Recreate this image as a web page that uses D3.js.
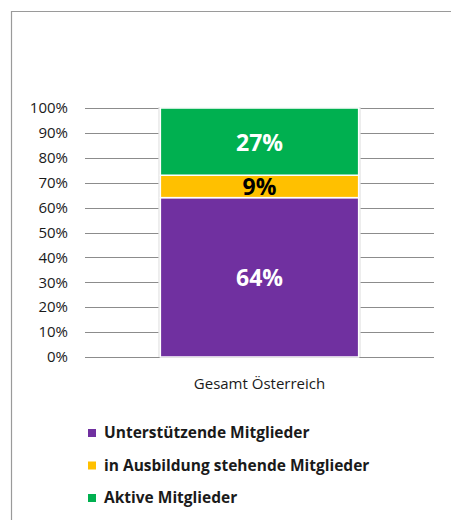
<!DOCTYPE html>
<meta charset="utf-8">
<style>
    body { margin: 0; background: #fff; }
    svg { display: block; }
</style>
<svg width="451" height="520" font-family="'Open Sans', sans-serif"></svg>
<script src="https://cdn.jsdelivr.net/npm/d3@7"></script>
<script>
    // data
    var categories = ["Gesamt Österreich"];
    var seriesNames = ["Unterstützende Mitglieder", "in Ausbildung stehende Mitglieder", "Aktive Mitglieder"];
    var seriesValues = [[64], [9], [27]];
    var seriesColors = ["#7030a0", "#ffc000", "#00b050"];
    var labelColors = ["#fff", "#000", "#fff"];
    var yTicks = [0, 10, 20, 30, 40, 50, 60, 70, 80, 90, 100];

    var svg = d3.select("svg");

    // frame
    svg.append("path")
        .attr("d", "M11.5,520V11.5H451")
        .attr("fill", "none")
        .attr("stroke", "#9a9a9a")
        .attr("stroke-width", 1.2);

    var x = d3.scaleBand()
        .domain(categories)
        .range([85, 434])
        .paddingInner(0)
        .paddingOuter(0.38);

    var y = d3.scaleLinear()
        .domain([0, 100])
        .range([357, 108]);

    // grid
    svg.append("g")
        .selectAll("line")
        .data(yTicks)
        .enter().append("line")
        .attr("x1", 85)
        .attr("x2", 434)
        .attr("y1", function (d) { return Math.round(y(d)) + 0.5; })
        .attr("y2", function (d) { return Math.round(y(d)) + 0.5; })
        .attr("stroke", "#8c8c8c")
        .attr("stroke-width", 1);

    // tick labels
    svg.append("g")
        .attr("text-anchor", "end")
        .attr("font-size", 15)
        .attr("fill", "#1a1a1a")
        .selectAll("text")
        .data(yTicks)
        .enter().append("text")
        .attr("x", 68)
        .attr("y", function (d) { return y(d); })
        .attr("dy", "0.35em")
        .text(function (d) { return d + "%"; });

    // stacked bar
    var rows = categories.map(function (c, i) {
        var r = { cat: c };
        seriesNames.forEach(function (s, j) { r[s] = seriesValues[j][i]; });
        return r;
    });
    var stack = d3.stack().keys(seriesNames)(rows);

    // soft shadow at bar sides
    svg.append("rect")
        .attr("x", x(categories[0]) - 2)
        .attr("y", y(100) - 1)
        .attr("width", x.bandwidth() + 4)
        .attr("height", y(0) - y(100) + 1)
        .attr("fill", "#e4e4e4");

    var layer = svg.append("g")
        .selectAll("g")
        .data(stack)
        .enter().append("g")
        .attr("fill", function (d, i) { return seriesColors[i]; });

    layer.selectAll("rect")
        .data(function (d) { return d; })
        .enter().append("rect")
        .attr("x", function (d) { return x(d.data.cat); })
        .attr("width", x.bandwidth())
        .attr("y", function (d) { return y(d[1]); })
        .attr("height", function (d) { return y(d[0]) - y(d[1]); })
        .attr("stroke", "#fff")
        .attr("stroke-width", 1.5);

    layer.selectAll("text")
        .data(function (d, i) { return d.map(function (p) { return { p: p, i: i }; }); })
        .enter().append("text")
        .attr("x", function (d) { return x(d.p.data.cat) + x.bandwidth() / 2; })
        .attr("y", function (d) { return (y(d.p[0]) + y(d.p[1])) / 2 + 1; })
        .attr("dy", "0.35em")
        .attr("text-anchor", "middle")
        .attr("font-size", 23)
        .attr("font-weight", "bold")
        .attr("fill", function (d) { return labelColors[d.i]; })
        .text(function (d) { return (d.p[1] - d.p[0]) + "%"; });

    // category label
    svg.append("g")
        .selectAll("text")
        .data(categories)
        .enter().append("text")
        .attr("x", function (d) { return x(d) + x.bandwidth() / 2; })
        .attr("y", 384)
        .attr("dy", "0.35em")
        .attr("text-anchor", "middle")
        .attr("font-size", 15)
        .attr("fill", "#1a1a1a")
        .text(function (d) { return d; });

    // legend
    var legend = svg.append("g")
        .selectAll("g")
        .data(seriesNames)
        .enter().append("g")
        .attr("transform", function (d, i) { return "translate(88," + (433 + i * 32.5) + ")"; });

    legend.append("rect")
        .attr("y", -4)
        .attr("width", 8)
        .attr("height", 8)
        .attr("fill", function (d, i) { return seriesColors[i]; });

    legend.append("text")
        .attr("x", 16)
        .attr("dy", "0.35em")
        .attr("font-size", 15.5)
        .attr("font-weight", "bold")
        .attr("fill", "#1a1a1a")
        .text(function (d) { return d; });
</script>
